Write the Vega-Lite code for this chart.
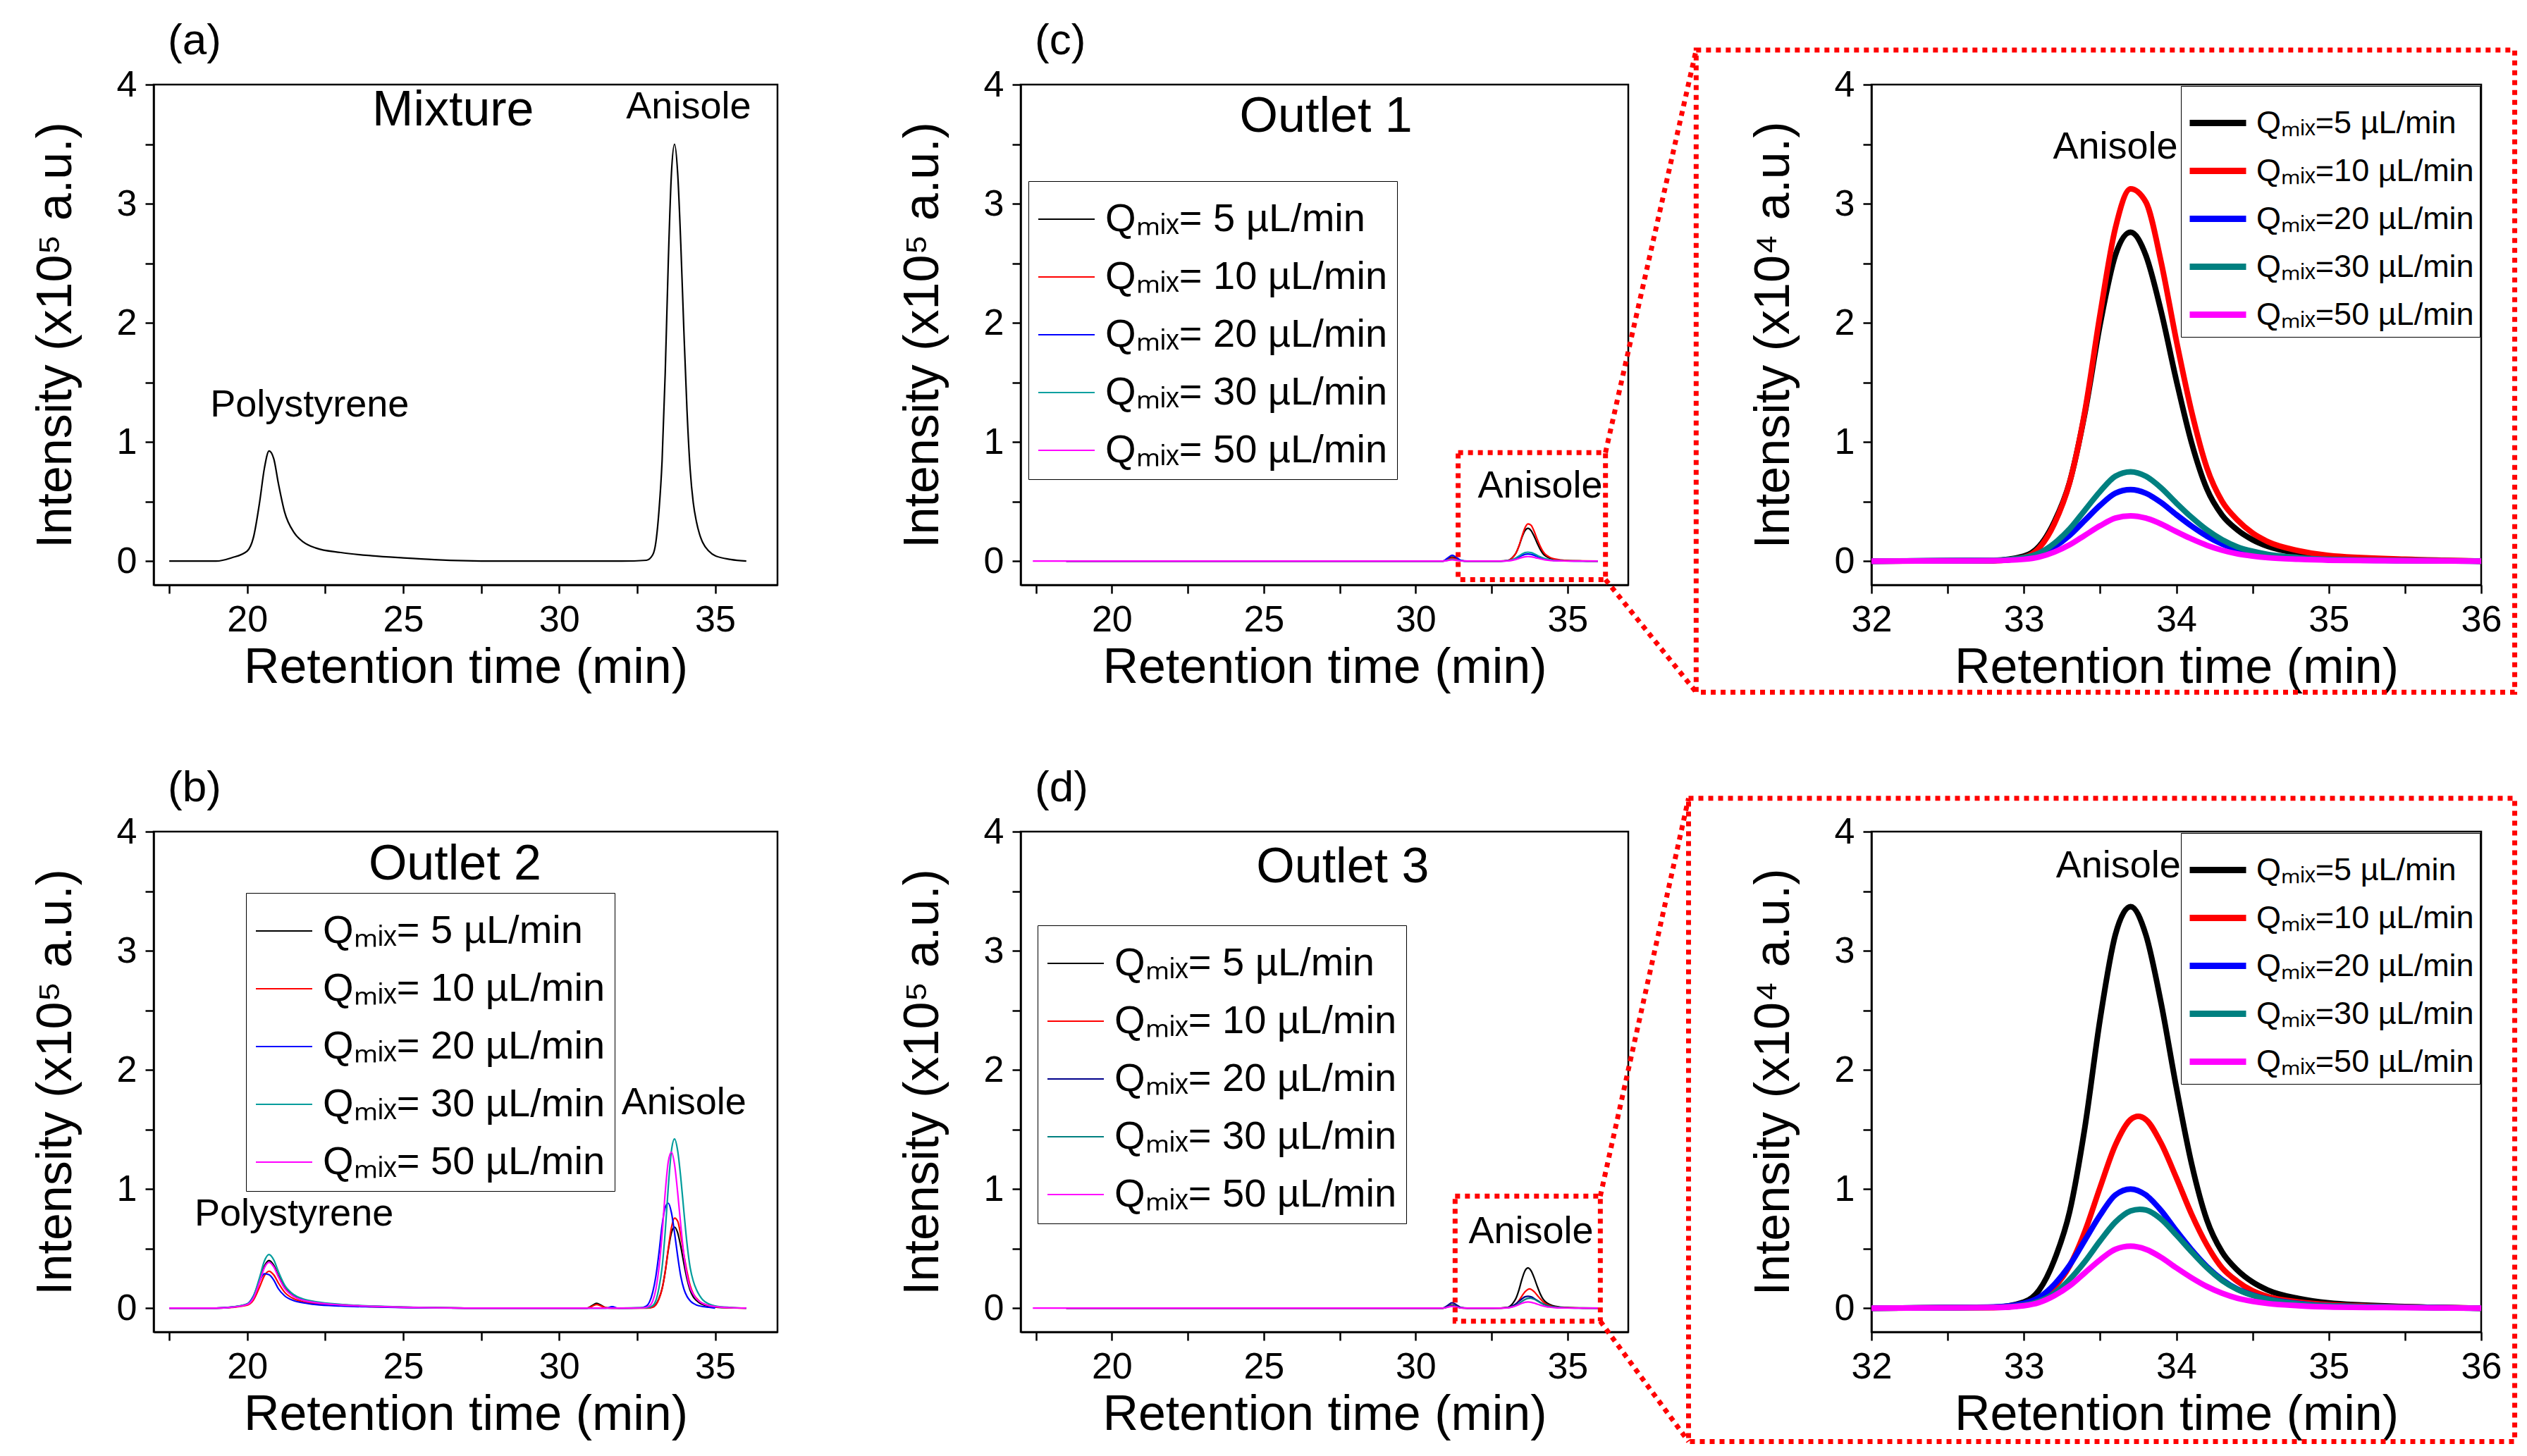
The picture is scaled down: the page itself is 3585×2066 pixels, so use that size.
{
"$schema":"https://vega.github.io/schema/vega-lite/v6.json",
"background":"white",
"padding":{"left":42,"top":25,"right":5,"bottom":5},
"config":{
 "font":"Liberation Sans",
 "view":{"stroke":"black","strokeWidth":2.5},
 "axis":{"grid":false,"domainColor":"black","domainWidth":2.5,"tickColor":"black","tickWidth":2.5,"tickSize":12,"labelFontSize":52,"labelColor":"black","labelPadding":12,"labelFlush":false,"labelOverlap":false,"titleFontSize":70,"titleFontWeight":"normal","titleColor":"black"},
 "axisX":{"titlePadding":8},
 "axisY":{"titlePadding":50},
 "title":{"fontSize":62,"fontWeight":"normal","anchor":"start","frame":"group","offset":4,"dx":20,"color":"black"},
 "legend":{"title":null,"symbolType":"stroke","strokeColor":"black","fillColor":"white","labelColor":"black","labelLimit":0},
 "text":{"color":"black"}
},
"datasets":{
"mix":[{"t":17.5,"v":0},{"t":19,"v":0},{"t":19.5,"v":2800},{"t":20,"v":8500},{"t":20.2,"v":20000},{"t":20.4,"v":50000},{"t":20.55,"v":78000},{"t":20.7,"v":92500},{"t":20.85,"v":86000},{"t":21,"v":65000},{"t":21.2,"v":41000},{"t":21.5,"v":24000},{"t":21.8,"v":16000},{"t":22.2,"v":11000},{"t":23,"v":7200},{"t":24,"v":4500},{"t":25,"v":2700},{"t":26,"v":1200},{"t":27,"v":300},{"t":28,"v":0},{"t":32,"v":0},{"t":32.8,"v":700},{"t":33,"v":5250},{"t":33.1,"v":15750},{"t":33.2,"v":42000},{"t":33.3,"v":84000},{"t":33.4,"v":157500},{"t":33.5,"v":252000},{"t":33.6,"v":325500},{"t":33.7,"v":350000},{"t":33.8,"v":325500},{"t":33.9,"v":266000},{"t":34,"v":192500},{"t":34.1,"v":126000},{"t":34.2,"v":77000},{"t":34.3,"v":49000},{"t":34.4,"v":33250},{"t":34.5,"v":22750},{"t":34.6,"v":15750},{"t":34.8,"v":8400},{"t":35,"v":4550},{"t":35.5,"v":1400},{"t":36,"v":0}],
"o1":[
{"q":"5","t":18.5,"v":0},{"q":"5","t":30.9,"v":0},{"q":"5","t":31.05,"v":1750},{"q":"5","t":31.2,"v":3500},{"q":"5","t":31.35,"v":2100},{"q":"5","t":31.5,"v":350},{"q":"5","t":31.7,"v":0},
{"q":"5","t":32,"v":0},{"q":"5","t":32.8,"v":55},{"q":"5","t":33,"v":414},{"q":"5","t":33.1,"v":1242},{"q":"5","t":33.2,"v":3312},{"q":"5","t":33.3,"v":6624},{"q":"5","t":33.4,"v":12420},{"q":"5","t":33.5,"v":19872},{"q":"5","t":33.6,"v":25668},{"q":"5","t":33.7,"v":27600},{"q":"5","t":33.8,"v":25668},{"q":"5","t":33.9,"v":20976},{"q":"5","t":34,"v":15180},{"q":"5","t":34.1,"v":9936},{"q":"5","t":34.2,"v":6072},{"q":"5","t":34.3,"v":3864},{"q":"5","t":34.4,"v":2622},{"q":"5","t":34.5,"v":1794},{"q":"5","t":34.6,"v":1242},{"q":"5","t":34.8,"v":662},{"q":"5","t":35,"v":359},{"q":"5","t":35.5,"v":110},{"q":"5","t":36,"v":0},
{"q":"10","t":18.5,"v":0},{"q":"10","t":30.9,"v":0},{"q":"10","t":31.05,"v":1250},{"q":"10","t":31.2,"v":2500},{"q":"10","t":31.35,"v":1500},{"q":"10","t":31.5,"v":250},{"q":"10","t":31.7,"v":0},
{"q":"10","t":32,"v":0},{"q":"10","t":32.8,"v":31},{"q":"10","t":33,"v":314},{"q":"10","t":33.1,"v":1099},{"q":"10","t":33.2,"v":3140},{"q":"10","t":33.3,"v":6594},{"q":"10","t":33.4,"v":12560},{"q":"10","t":33.5,"v":20724},{"q":"10","t":33.6,"v":27946},{"q":"10","t":33.7,"v":31243},{"q":"10","t":33.8,"v":30144},{"q":"10","t":33.9,"v":25120},{"q":"10","t":34,"v":18526},{"q":"10","t":34.1,"v":12560},{"q":"10","t":34.2,"v":7850},{"q":"10","t":34.3,"v":5024},{"q":"10","t":34.4,"v":3454},{"q":"10","t":34.5,"v":2355},{"q":"10","t":34.6,"v":1633},{"q":"10","t":34.8,"v":879},{"q":"10","t":35,"v":471},{"q":"10","t":35.5,"v":157},{"q":"10","t":36,"v":0},
{"q":"20","t":18.5,"v":0},{"q":"20","t":30.9,"v":0},{"q":"20","t":31.05,"v":2500},{"q":"20","t":31.2,"v":5000},{"q":"20","t":31.35,"v":3000},{"q":"20","t":31.5,"v":500},{"q":"20","t":31.7,"v":0},
{"q":"20","t":32,"v":0},{"q":"20","t":32.8,"v":60},{"q":"20","t":33,"v":240},{"q":"20","t":33.1,"v":540},{"q":"20","t":33.2,"v":1200},{"q":"20","t":33.3,"v":2160},{"q":"20","t":33.4,"v":3420},{"q":"20","t":33.5,"v":4680},{"q":"20","t":33.6,"v":5700},{"q":"20","t":33.7,"v":6000},{"q":"20","t":33.8,"v":5700},{"q":"20","t":33.9,"v":4920},{"q":"20","t":34,"v":3900},{"q":"20","t":34.1,"v":2940},{"q":"20","t":34.2,"v":2100},{"q":"20","t":34.3,"v":1440},{"q":"20","t":34.4,"v":960},{"q":"20","t":34.5,"v":660},{"q":"20","t":34.6,"v":450},{"q":"20","t":34.8,"v":240},{"q":"20","t":35,"v":120},{"q":"20","t":35.5,"v":48},{"q":"20","t":36,"v":0},
{"q":"30","t":18.5,"v":0},{"q":"30","t":30.9,"v":0},{"q":"30","t":31.05,"v":750},{"q":"30","t":31.2,"v":1500},{"q":"30","t":31.35,"v":900},{"q":"30","t":31.5,"v":150},{"q":"30","t":31.7,"v":0},
{"q":"30","t":32,"v":0},{"q":"30","t":32.8,"v":75},{"q":"30","t":33,"v":300},{"q":"30","t":33.1,"v":675},{"q":"30","t":33.2,"v":1500},{"q":"30","t":33.3,"v":2700},{"q":"30","t":33.4,"v":4275},{"q":"30","t":33.5,"v":5850},{"q":"30","t":33.6,"v":7125},{"q":"30","t":33.7,"v":7500},{"q":"30","t":33.8,"v":7125},{"q":"30","t":33.9,"v":6150},{"q":"30","t":34,"v":4875},{"q":"30","t":34.1,"v":3675},{"q":"30","t":34.2,"v":2625},{"q":"30","t":34.3,"v":1800},{"q":"30","t":34.4,"v":1200},{"q":"30","t":34.5,"v":825},{"q":"30","t":34.6,"v":563},{"q":"30","t":34.8,"v":300},{"q":"30","t":35,"v":150},{"q":"30","t":35.5,"v":60},{"q":"30","t":36,"v":0},
{"q":"50","t":17.4,"v":0},{"q":"50","t":30.9,"v":0},{"q":"50","t":31.05,"v":500},{"q":"50","t":31.2,"v":1000},{"q":"50","t":31.35,"v":600},{"q":"50","t":31.5,"v":100},{"q":"50","t":31.7,"v":0},
{"q":"50","t":32,"v":0},{"q":"50","t":32.8,"v":38},{"q":"50","t":33,"v":152},{"q":"50","t":33.1,"v":342},{"q":"50","t":33.2,"v":760},{"q":"50","t":33.3,"v":1368},{"q":"50","t":33.4,"v":2166},{"q":"50","t":33.5,"v":2964},{"q":"50","t":33.6,"v":3610},{"q":"50","t":33.7,"v":3800},{"q":"50","t":33.8,"v":3610},{"q":"50","t":33.9,"v":3116},{"q":"50","t":34,"v":2470},{"q":"50","t":34.1,"v":1862},{"q":"50","t":34.2,"v":1330},{"q":"50","t":34.3,"v":912},{"q":"50","t":34.4,"v":608},{"q":"50","t":34.5,"v":418},{"q":"50","t":34.6,"v":285},{"q":"50","t":34.8,"v":152},{"q":"50","t":35,"v":76},{"q":"50","t":35.5,"v":30},{"q":"50","t":36,"v":0}
],
"o2":[
{"q":"5","t":17.5,"v":0},{"q":"5","t":19,"v":0},{"q":"5","t":19.5,"v":800},{"q":"5","t":20,"v":3200},{"q":"5","t":20.2,"v":8800},{"q":"5","t":20.4,"v":23200},{"q":"5","t":20.55,"v":35200},{"q":"5","t":20.7,"v":40000},{"q":"5","t":20.85,"v":36000},{"q":"5","t":21,"v":27200},{"q":"5","t":21.2,"v":17200},{"q":"5","t":21.5,"v":10000},{"q":"5","t":21.8,"v":6800},{"q":"5","t":22.2,"v":4800},{"q":"5","t":23,"v":2800},{"q":"5","t":24,"v":1600},{"q":"5","t":25,"v":800},{"q":"5","t":26,"v":320},{"q":"5","t":27,"v":80},{"q":"5","t":28,"v":0},
{"q":"5","t":30.9,"v":0},{"q":"5","t":31.05,"v":2000},{"q":"5","t":31.2,"v":4000},{"q":"5","t":31.35,"v":2400},{"q":"5","t":31.5,"v":400},{"q":"5","t":31.7,"v":0},
{"q":"5","t":32,"v":0},{"q":"5","t":32.8,"v":136},{"q":"5","t":33,"v":1020},{"q":"5","t":33.1,"v":3060},{"q":"5","t":33.2,"v":8160},{"q":"5","t":33.3,"v":16320},{"q":"5","t":33.4,"v":30600},{"q":"5","t":33.5,"v":48960},{"q":"5","t":33.6,"v":63240},{"q":"5","t":33.7,"v":68000},{"q":"5","t":33.8,"v":63240},{"q":"5","t":33.9,"v":51680},{"q":"5","t":34,"v":37400},{"q":"5","t":34.1,"v":24480},{"q":"5","t":34.2,"v":14960},{"q":"5","t":34.3,"v":9520},{"q":"5","t":34.4,"v":6460},{"q":"5","t":34.5,"v":4420},{"q":"5","t":34.6,"v":3060},{"q":"5","t":34.8,"v":1632},{"q":"5","t":35,"v":884},{"q":"5","t":35.5,"v":272},{"q":"5","t":36,"v":0},
{"q":"10","t":17.5,"v":0},{"q":"10","t":19,"v":0},{"q":"10","t":19.5,"v":620},{"q":"10","t":20,"v":2480},{"q":"10","t":20.2,"v":6820},{"q":"10","t":20.4,"v":17980},{"q":"10","t":20.55,"v":27280},{"q":"10","t":20.7,"v":31000},{"q":"10","t":20.85,"v":27900},{"q":"10","t":21,"v":21080},{"q":"10","t":21.2,"v":13330},{"q":"10","t":21.5,"v":7750},{"q":"10","t":21.8,"v":5270},{"q":"10","t":22.2,"v":3720},{"q":"10","t":23,"v":2170},{"q":"10","t":24,"v":1240},{"q":"10","t":25,"v":620},{"q":"10","t":26,"v":248},{"q":"10","t":27,"v":62},{"q":"10","t":28,"v":0},
{"q":"10","t":30.9,"v":0},{"q":"10","t":31.05,"v":1500},{"q":"10","t":31.2,"v":3000},{"q":"10","t":31.35,"v":1800},{"q":"10","t":31.5,"v":300},{"q":"10","t":31.7,"v":0},
{"q":"10","t":32,"v":0},{"q":"10","t":32.8,"v":76},{"q":"10","t":33,"v":760},{"q":"10","t":33.1,"v":2660},{"q":"10","t":33.2,"v":7600},{"q":"10","t":33.3,"v":15960},{"q":"10","t":33.4,"v":30400},{"q":"10","t":33.5,"v":50160},{"q":"10","t":33.6,"v":67640},{"q":"10","t":33.7,"v":75620},{"q":"10","t":33.8,"v":72960},{"q":"10","t":33.9,"v":60800},{"q":"10","t":34,"v":44840},{"q":"10","t":34.1,"v":30400},{"q":"10","t":34.2,"v":19000},{"q":"10","t":34.3,"v":12160},{"q":"10","t":34.4,"v":8360},{"q":"10","t":34.5,"v":5700},{"q":"10","t":34.6,"v":3952},{"q":"10","t":34.8,"v":2128},{"q":"10","t":35,"v":1140},{"q":"10","t":35.5,"v":380},{"q":"10","t":36,"v":0},
{"q":"20","t":17.5,"v":0},{"q":"20","t":19,"v":0},{"q":"20","t":19.5,"v":885},{"q":"20","t":20,"v":3540},{"q":"20","t":20.2,"v":10325},{"q":"20","t":20.4,"v":23010},{"q":"20","t":20.55,"v":28910},{"q":"20","t":20.7,"v":28025},{"q":"20","t":20.85,"v":23600},{"q":"20","t":21,"v":16225},{"q":"20","t":21.2,"v":10325},{"q":"20","t":21.5,"v":6195},{"q":"20","t":21.8,"v":4425},{"q":"20","t":22.2,"v":2950},{"q":"20","t":23,"v":1770},{"q":"20","t":24,"v":1033},{"q":"20","t":25,"v":531},{"q":"20","t":26,"v":207},{"q":"20","t":27,"v":59},{"q":"20","t":28,"v":0},
{"q":"20","t":31.5,"v":0},{"q":"20","t":31.7,"v":1200},{"q":"20","t":31.9,"v":0},
{"q":"20","t":32,"v":0},{"q":"20","t":32.6,"v":178},{"q":"20","t":32.8,"v":1780},{"q":"20","t":32.9,"v":5340},{"q":"20","t":33,"v":13350},{"q":"20","t":33.1,"v":26700},{"q":"20","t":33.2,"v":46280},{"q":"20","t":33.3,"v":69420},{"q":"20","t":33.4,"v":84550},{"q":"20","t":33.5,"v":88110},{"q":"20","t":33.6,"v":80100},{"q":"20","t":33.7,"v":63190},{"q":"20","t":33.8,"v":43610},{"q":"20","t":33.9,"v":26700},{"q":"20","t":34,"v":16020},{"q":"20","t":34.1,"v":9790},{"q":"20","t":34.2,"v":6230},{"q":"20","t":34.3,"v":4005},{"q":"20","t":34.4,"v":2670},{"q":"20","t":34.6,"v":1335},{"q":"20","t":34.8,"v":712},{"q":"20","t":35,"v":0},
{"q":"30","t":17.5,"v":0},{"q":"30","t":19,"v":0},{"q":"30","t":19.5,"v":900},{"q":"30","t":20,"v":3600},{"q":"30","t":20.2,"v":9900},{"q":"30","t":20.4,"v":26100},{"q":"30","t":20.55,"v":39600},{"q":"30","t":20.7,"v":45000},{"q":"30","t":20.85,"v":40500},{"q":"30","t":21,"v":30600},{"q":"30","t":21.2,"v":19350},{"q":"30","t":21.5,"v":11250},{"q":"30","t":21.8,"v":7650},{"q":"30","t":22.2,"v":5400},{"q":"30","t":23,"v":3150},{"q":"30","t":24,"v":1800},{"q":"30","t":25,"v":900},{"q":"30","t":26,"v":360},{"q":"30","t":27,"v":90},{"q":"30","t":28,"v":0},
{"q":"30","t":32,"v":0},{"q":"30","t":32.8,"v":284},{"q":"30","t":33,"v":2130},{"q":"30","t":33.1,"v":6390},{"q":"30","t":33.2,"v":17040},{"q":"30","t":33.3,"v":34080},{"q":"30","t":33.4,"v":63900},{"q":"30","t":33.5,"v":102240},{"q":"30","t":33.6,"v":132060},{"q":"30","t":33.7,"v":142000},{"q":"30","t":33.8,"v":132060},{"q":"30","t":33.9,"v":109340},{"q":"30","t":34,"v":80940},{"q":"30","t":34.1,"v":53960},{"q":"30","t":34.2,"v":34080},{"q":"30","t":34.3,"v":22720},{"q":"30","t":34.4,"v":15620},{"q":"30","t":34.5,"v":10650},{"q":"30","t":34.6,"v":7100},{"q":"30","t":34.8,"v":3550},{"q":"30","t":35,"v":1846},{"q":"30","t":35.5,"v":568},{"q":"30","t":36,"v":0},
{"q":"50","t":17.5,"v":0},{"q":"50","t":19,"v":0},{"q":"50","t":19.5,"v":770},{"q":"50","t":20,"v":3080},{"q":"50","t":20.2,"v":8470},{"q":"50","t":20.4,"v":22330},{"q":"50","t":20.55,"v":33880},{"q":"50","t":20.7,"v":38500},{"q":"50","t":20.85,"v":34650},{"q":"50","t":21,"v":26180},{"q":"50","t":21.2,"v":16555},{"q":"50","t":21.5,"v":9625},{"q":"50","t":21.8,"v":6545},{"q":"50","t":22.2,"v":4620},{"q":"50","t":23,"v":2695},{"q":"50","t":24,"v":1540},{"q":"50","t":25,"v":770},{"q":"50","t":26,"v":308},{"q":"50","t":27,"v":77},{"q":"50","t":28,"v":0},
{"q":"50","t":32,"v":0},{"q":"50","t":32.7,"v":262},{"q":"50","t":32.9,"v":1965},{"q":"50","t":33,"v":5895},{"q":"50","t":33.1,"v":15720},{"q":"50","t":33.2,"v":34060},{"q":"50","t":33.3,"v":61570},{"q":"50","t":33.4,"v":96940},{"q":"50","t":33.5,"v":123140},{"q":"50","t":33.6,"v":131000},{"q":"50","t":33.7,"v":120520},{"q":"50","t":33.8,"v":96940},{"q":"50","t":33.9,"v":69430},{"q":"50","t":34,"v":44540},{"q":"50","t":34.1,"v":27510},{"q":"50","t":34.2,"v":17030},{"q":"50","t":34.3,"v":11790},{"q":"50","t":34.4,"v":7860},{"q":"50","t":34.5,"v":5502},{"q":"50","t":34.7,"v":2882},{"q":"50","t":35,"v":1310},{"q":"50","t":35.5,"v":393},{"q":"50","t":36,"v":0}
],
"o3":[
{"q":"5","t":18.5,"v":0},{"q":"5","t":30.9,"v":0},{"q":"5","t":31.05,"v":1250},{"q":"5","t":31.2,"v":2500},{"q":"5","t":31.35,"v":1500},{"q":"5","t":31.5,"v":250},{"q":"5","t":31.7,"v":0},
{"q":"5","t":32,"v":0},{"q":"5","t":32.8,"v":67},{"q":"5","t":33,"v":506},{"q":"5","t":33.1,"v":1517},{"q":"5","t":33.2,"v":4044},{"q":"5","t":33.3,"v":8088},{"q":"5","t":33.4,"v":15165},{"q":"5","t":33.5,"v":24264},{"q":"5","t":33.6,"v":31341},{"q":"5","t":33.7,"v":33700},{"q":"5","t":33.8,"v":31341},{"q":"5","t":33.9,"v":25612},{"q":"5","t":34,"v":18535},{"q":"5","t":34.1,"v":12132},{"q":"5","t":34.2,"v":7414},{"q":"5","t":34.3,"v":4718},{"q":"5","t":34.4,"v":3202},{"q":"5","t":34.5,"v":2191},{"q":"5","t":34.6,"v":1517},{"q":"5","t":34.8,"v":809},{"q":"5","t":35,"v":438},{"q":"5","t":35.5,"v":135},{"q":"5","t":36,"v":0},
{"q":"10","t":18.5,"v":0},{"q":"10","t":30.9,"v":0},{"q":"10","t":31.05,"v":1000},{"q":"10","t":31.2,"v":2000},{"q":"10","t":31.35,"v":1200},{"q":"10","t":31.5,"v":200},{"q":"10","t":31.7,"v":0},
{"q":"10","t":32,"v":0},{"q":"10","t":32.8,"v":48},{"q":"10","t":33,"v":322},{"q":"10","t":33.1,"v":805},{"q":"10","t":33.2,"v":1771},{"q":"10","t":33.3,"v":3542},{"q":"10","t":33.4,"v":6440},{"q":"10","t":33.5,"v":10143},{"q":"10","t":33.6,"v":13685},{"q":"10","t":33.7,"v":15830},{"q":"10","t":33.75,"v":16100},{"q":"10","t":33.8,"v":15830},{"q":"10","t":33.9,"v":13846},{"q":"10","t":34,"v":10948},{"q":"10","t":34.1,"v":7889},{"q":"10","t":34.2,"v":5313},{"q":"10","t":34.3,"v":3381},{"q":"10","t":34.4,"v":2254},{"q":"10","t":34.5,"v":1449},{"q":"10","t":34.6,"v":966},{"q":"10","t":34.8,"v":515},{"q":"10","t":35,"v":290},{"q":"10","t":35.5,"v":97},{"q":"10","t":36,"v":0},
{"q":"20","t":18.5,"v":0},{"q":"20","t":30.9,"v":0},{"q":"20","t":31.05,"v":2250},{"q":"20","t":31.2,"v":4500},{"q":"20","t":31.35,"v":2700},{"q":"20","t":31.5,"v":450},{"q":"20","t":31.7,"v":0},
{"q":"20","t":32,"v":0},{"q":"20","t":32.8,"v":100},{"q":"20","t":33,"v":400},{"q":"20","t":33.1,"v":900},{"q":"20","t":33.2,"v":2000},{"q":"20","t":33.3,"v":3600},{"q":"20","t":33.4,"v":5700},{"q":"20","t":33.5,"v":7800},{"q":"20","t":33.6,"v":9500},{"q":"20","t":33.7,"v":10000},{"q":"20","t":33.8,"v":9500},{"q":"20","t":33.9,"v":8200},{"q":"20","t":34,"v":6500},{"q":"20","t":34.1,"v":4900},{"q":"20","t":34.2,"v":3500},{"q":"20","t":34.3,"v":2400},{"q":"20","t":34.4,"v":1600},{"q":"20","t":34.5,"v":1100},{"q":"20","t":34.6,"v":750},{"q":"20","t":34.8,"v":400},{"q":"20","t":35,"v":200},{"q":"20","t":35.5,"v":80},{"q":"20","t":36,"v":0},
{"q":"30","t":18.5,"v":0},{"q":"30","t":30.9,"v":0},{"q":"30","t":31.05,"v":1000},{"q":"30","t":31.2,"v":2000},{"q":"30","t":31.35,"v":1200},{"q":"30","t":31.5,"v":200},{"q":"30","t":31.7,"v":0},
{"q":"30","t":32,"v":0},{"q":"30","t":32.8,"v":66},{"q":"30","t":33,"v":249},{"q":"30","t":33.1,"v":581},{"q":"30","t":33.2,"v":1245},{"q":"30","t":33.3,"v":2407},{"q":"30","t":33.4,"v":3901},{"q":"30","t":33.5,"v":5644},{"q":"30","t":33.6,"v":7221},{"q":"30","t":33.7,"v":8160},{"q":"30","t":33.76,"v":8300},{"q":"30","t":33.8,"v":8240},{"q":"30","t":33.9,"v":7470},{"q":"30","t":34,"v":6142},{"q":"30","t":34.1,"v":4731},{"q":"30","t":34.2,"v":3403},{"q":"30","t":34.3,"v":2324},{"q":"30","t":34.4,"v":1577},{"q":"30","t":34.5,"v":1079},{"q":"30","t":34.6,"v":747},{"q":"30","t":34.8,"v":374},{"q":"30","t":35,"v":199},{"q":"30","t":35.5,"v":75},{"q":"30","t":36,"v":0},
{"q":"50","t":17.4,"v":0},{"q":"50","t":30.9,"v":0},{"q":"50","t":31.05,"v":750},{"q":"50","t":31.2,"v":1500},{"q":"50","t":31.35,"v":900},{"q":"50","t":31.5,"v":150},{"q":"50","t":31.7,"v":0},
{"q":"50","t":32,"v":0},{"q":"50","t":32.8,"v":52},{"q":"50","t":33,"v":208},{"q":"50","t":33.1,"v":468},{"q":"50","t":33.2,"v":1040},{"q":"50","t":33.3,"v":1872},{"q":"50","t":33.4,"v":2964},{"q":"50","t":33.5,"v":4056},{"q":"50","t":33.6,"v":4940},{"q":"50","t":33.7,"v":5200},{"q":"50","t":33.8,"v":4940},{"q":"50","t":33.9,"v":4264},{"q":"50","t":34,"v":3380},{"q":"50","t":34.1,"v":2548},{"q":"50","t":34.2,"v":1820},{"q":"50","t":34.3,"v":1248},{"q":"50","t":34.4,"v":832},{"q":"50","t":34.5,"v":572},{"q":"50","t":34.6,"v":390},{"q":"50","t":34.8,"v":208},{"q":"50","t":35,"v":104},{"q":"50","t":35.5,"v":42},{"q":"50","t":36,"v":0}
],
"labels":[
{"panel":"Mixture","kind":"title","text":"Mixture","t":26.6,"v":378000},
{"panel":"Mixture","kind":"peak","text":"Anisole","t":34.15,"v":381000},
{"panel":"Mixture","kind":"peak","text":"Polystyrene","t":22.0,"v":131000},
{"panel":"Outlet 1","kind":"title","text":"Outlet 1","t":27.05,"v":373000},
{"panel":"Outlet 1","kind":"peak","text":"Anisole","t":34.1,"v":63000},
{"panel":"Outlet 2","kind":"title","text":"Outlet 2","t":26.66,"v":372000},
{"panel":"Outlet 2","kind":"peak","text":"Anisole","t":34.0,"v":172000},
{"panel":"Outlet 2","kind":"peak","text":"Polystyrene","t":21.5,"v":79000},
{"panel":"Outlet 3","kind":"title","text":"Outlet 3","t":27.6,"v":370000},
{"panel":"Outlet 3","kind":"peak","text":"Anisole","t":33.8,"v":64000},
{"panel":"Inset 1","kind":"peak","text":"Anisole","t":33.6,"v":34750},
{"panel":"Inset 3","kind":"peak","text":"Anisole","t":33.62,"v":37100}
],
"boxes":[
{"panel":"Outlet 1","x1":31.4,"x2":36.25,"y1":-15500,"y2":91000},
{"panel":"Outlet 3","x1":31.3,"x2":36.08,"y1":-11000,"y2":94000},
{"panel":"Inset 1","x1":30.85,"x2":36.22,"y1":-11000,"y2":42900},
{"panel":"Inset 3","x1":30.8,"x2":36.22,"y1":-11200,"y2":42800}
],
"links":[
{"panel":"Inset 1","x1":30.255,"x2":30.85,"y1":9100,"y2":42900},
{"panel":"Inset 1","x1":30.255,"x2":30.85,"y1":-1550,"y2":-11000},
{"panel":"Inset 3","x1":30.221,"x2":30.8,"y1":9400,"y2":42800},
{"panel":"Inset 3","x1":30.221,"x2":30.8,"y1":-1100,"y2":-11200}
]
},
"columns":3,
"spacing":{"row":350,"column":345},
"bounds":"flush",
"resolve":{"scale":{"color":"independent","x":"independent","y":"independent"},"legend":{"color":"independent"}},
"concat":[
 {"width":885,"height":710,"title":"(a)","layer":[
  {"data":{"name":"mix"},"mark":{"type":"line","interpolate":"monotone","strokeWidth":2.2,"color":"black"},
   "encoding":{"x":{"field":"t","type":"quantitative","scale":{"domain":[17,37],"nice":false,"zero":false},"axis":{"title":"Retention time (min)","values":[17.5,20,22.5,25,27.5,30,32.5,35],"labelExpr":"datum.value % 5 == 0 ? format(datum.value,'d') : ''"}},
   "y":{"field":"v","type":"quantitative","scale":{"domain":[-20000,400000],"nice":false,"zero":false},"axis":{"title":"Intensity (x10⁵ a.u.)","values":[0,50000,100000,150000,200000,250000,300000,350000,400000],"labelExpr":"datum.value % 100000 == 0 ? format(datum.value/100000,'d') : ''"}}}},
  {"data":{"name":"labels"},"transform":[{"filter":"datum.panel == 'Mixture' && datum.kind == 'title'"}],"mark":{"type":"text","fontSize":70,"baseline":"middle"},"encoding":{"x":{"field":"t","type":"quantitative"},"y":{"field":"v","type":"quantitative"},"text":{"field":"text"}}},
  {"data":{"name":"labels"},"transform":[{"filter":"datum.panel == 'Mixture' && datum.kind == 'peak'"}],"mark":{"type":"text","fontSize":54,"baseline":"middle"},"encoding":{"x":{"field":"t","type":"quantitative"},"y":{"field":"v","type":"quantitative"},"text":{"field":"text"}}}
 ]},
 {"width":862,"height":710,"title":"(c)","layer":[
  {"data":{"name":"o1"},"mark":{"type":"line","interpolate":"monotone","strokeWidth":2.2},
   "encoding":{"x":{"field":"t","type":"quantitative","scale":{"domain":[17,37],"nice":false,"zero":false},"axis":{"title":"Retention time (min)","values":[17.5,20,22.5,25,27.5,30,32.5,35],"labelExpr":"datum.value % 5 == 0 ? format(datum.value,'d') : ''"}},
   "y":{"field":"v","type":"quantitative","scale":{"domain":[-20000,400000],"nice":false,"zero":false},"axis":{"title":"Intensity (x10⁵ a.u.)","values":[0,50000,100000,150000,200000,250000,300000,350000,400000],"labelExpr":"datum.value % 100000 == 0 ? format(datum.value/100000,'d') : ''"}},
   "color":{"field":"q","type":"nominal","scale":{"domain":["5","10","20","30","50"],"range":["#000000","#ff0000","#0000ff","#00a0a0","#ff00ff"]},
    "legend":{"orient":"none","legendX":11,"legendY":137,"labelExpr":"'Qₘᵢₓ= ' + datum.label + ' µL/min'","labelFontSize":56,"symbolSize":6400,"symbolStrokeWidth":2,"padding":13,"rowPadding":13,"labelOffset":14}}}},
  {"data":{"name":"labels"},"transform":[{"filter":"datum.panel == 'Outlet 1' && datum.kind == 'title'"}],"mark":{"type":"text","fontSize":70,"baseline":"middle"},"encoding":{"x":{"field":"t","type":"quantitative"},"y":{"field":"v","type":"quantitative"},"text":{"field":"text"}}},
  {"data":{"name":"labels"},"transform":[{"filter":"datum.panel == 'Outlet 1' && datum.kind == 'peak'"}],"mark":{"type":"text","fontSize":54,"baseline":"middle"},"encoding":{"x":{"field":"t","type":"quantitative"},"y":{"field":"v","type":"quantitative"},"text":{"field":"text"}}},
  {"data":{"name":"boxes"},"transform":[{"filter":"datum.panel == 'Outlet 1'"}],"mark":{"type":"rect","fill":"white","fillOpacity":0,"stroke":"#ff0000","strokeWidth":7,"strokeDash":[7,7]},"encoding":{"x":{"field":"x1","type":"quantitative"},"x2":{"field":"x2"},"y":{"field":"y1","type":"quantitative"},"y2":{"field":"y2"}}}
 ]},
 {"width":865,"height":710,"layer":[
  {"data":{"name":"o1"},"transform":[{"filter":"datum.t >= 32 && datum.t <= 36"}],"mark":{"type":"line","interpolate":"monotone","strokeWidth":8},
   "encoding":{"x":{"field":"t","type":"quantitative","scale":{"domain":[32,36],"nice":false,"zero":false},"axis":{"title":"Retention time (min)","values":[32,32.5,33,33.5,34,34.5,35,35.5,36],"labelExpr":"datum.value % 1 == 0 ? format(datum.value,'d') : ''"}},
   "y":{"field":"v","type":"quantitative","scale":{"domain":[-2000,40000],"nice":false,"zero":false},"axis":{"title":"Intensity (x10⁴ a.u.)","values":[0,5000,10000,15000,20000,25000,30000,35000,40000],"labelExpr":"datum.value % 10000 == 0 ? format(datum.value/10000,'d') : ''"}},
   "color":{"field":"q","type":"nominal","scale":{"domain":["5","10","20","30","50"],"range":["#000000","#ff0000","#0000ff","#008080","#ff00ff"]},
    "legend":{"orient":"top-right","offset":2,"labelExpr":"'Qₘᵢₓ=' + datum.label + ' µL/min'","labelFontSize":45,"symbolSize":6400,"symbolStrokeWidth":9,"padding":8,"rowPadding":0,"labelOffset":10}}}},
  {"data":{"name":"labels"},"transform":[{"filter":"datum.panel == 'Inset 1'"}],"mark":{"type":"text","fontSize":54,"baseline":"middle"},"encoding":{"x":{"field":"t","type":"quantitative"},"y":{"field":"v","type":"quantitative"},"text":{"field":"text"}}},
  {"data":{"name":"boxes"},"transform":[{"filter":"datum.panel == 'Inset 1'"}],"mark":{"type":"rect","fill":"white","fillOpacity":0,"stroke":"#ff0000","strokeWidth":7,"strokeDash":[7,7],"clip":false},"encoding":{"x":{"field":"x1","type":"quantitative"},"x2":{"field":"x2"},"y":{"field":"y1","type":"quantitative"},"y2":{"field":"y2"}}},
  {"data":{"name":"links"},"transform":[{"filter":"datum.panel == 'Inset 1'"}],"mark":{"type":"rule","color":"#ff0000","strokeWidth":7,"strokeDash":[7,7],"clip":false},"encoding":{"x":{"field":"x1","type":"quantitative"},"x2":{"field":"x2"},"y":{"field":"y1","type":"quantitative"},"y2":{"field":"y2"}}}
 ]},
 {"width":885,"height":710,"title":"(b)","layer":[
  {"data":{"name":"o2"},"mark":{"type":"line","interpolate":"monotone","strokeWidth":2.2},
   "encoding":{"x":{"field":"t","type":"quantitative","scale":{"domain":[17,37],"nice":false,"zero":false},"axis":{"title":"Retention time (min)","values":[17.5,20,22.5,25,27.5,30,32.5,35],"labelExpr":"datum.value % 5 == 0 ? format(datum.value,'d') : ''"}},
   "y":{"field":"v","type":"quantitative","scale":{"domain":[-20000,400000],"nice":false,"zero":false},"axis":{"title":"Intensity (x10⁵ a.u.)","values":[0,50000,100000,150000,200000,250000,300000,350000,400000],"labelExpr":"datum.value % 100000 == 0 ? format(datum.value/100000,'d') : ''"}},
   "color":{"field":"q","type":"nominal","scale":{"domain":["5","10","20","30","50"],"range":["#000000","#ff0000","#0000ff","#009c9c","#ff00ff"]},
    "legend":{"orient":"none","legendX":131,"legendY":87,"labelExpr":"'Qₘᵢₓ= ' + datum.label + ' µL/min'","labelFontSize":56,"symbolSize":6400,"symbolStrokeWidth":2,"padding":13,"rowPadding":13,"labelOffset":14}}}},
  {"data":{"name":"labels"},"transform":[{"filter":"datum.panel == 'Outlet 2' && datum.kind == 'title'"}],"mark":{"type":"text","fontSize":70,"baseline":"middle"},"encoding":{"x":{"field":"t","type":"quantitative"},"y":{"field":"v","type":"quantitative"},"text":{"field":"text"}}},
  {"data":{"name":"labels"},"transform":[{"filter":"datum.panel == 'Outlet 2' && datum.kind == 'peak'"}],"mark":{"type":"text","fontSize":54,"baseline":"middle"},"encoding":{"x":{"field":"t","type":"quantitative"},"y":{"field":"v","type":"quantitative"},"text":{"field":"text"}}}
 ]},
 {"width":862,"height":710,"title":"(d)","layer":[
  {"data":{"name":"o3"},"mark":{"type":"line","interpolate":"monotone","strokeWidth":2.2},
   "encoding":{"x":{"field":"t","type":"quantitative","scale":{"domain":[17,37],"nice":false,"zero":false},"axis":{"title":"Retention time (min)","values":[17.5,20,22.5,25,27.5,30,32.5,35],"labelExpr":"datum.value % 5 == 0 ? format(datum.value,'d') : ''"}},
   "y":{"field":"v","type":"quantitative","scale":{"domain":[-20000,400000],"nice":false,"zero":false},"axis":{"title":"Intensity (x10⁵ a.u.)","values":[0,50000,100000,150000,200000,250000,300000,350000,400000],"labelExpr":"datum.value % 100000 == 0 ? format(datum.value/100000,'d') : ''"}},
   "color":{"field":"q","type":"nominal","scale":{"domain":["5","10","20","30","50"],"range":["#000000","#ff0000","#00008b","#008080","#ff00ff"]},
    "legend":{"orient":"none","legendX":24,"legendY":133,"labelExpr":"'Qₘᵢₓ= ' + datum.label + ' µL/min'","labelFontSize":56,"symbolSize":6400,"symbolStrokeWidth":2,"padding":13,"rowPadding":13,"labelOffset":14}}}},
  {"data":{"name":"labels"},"transform":[{"filter":"datum.panel == 'Outlet 3' && datum.kind == 'title'"}],"mark":{"type":"text","fontSize":70,"baseline":"middle"},"encoding":{"x":{"field":"t","type":"quantitative"},"y":{"field":"v","type":"quantitative"},"text":{"field":"text"}}},
  {"data":{"name":"labels"},"transform":[{"filter":"datum.panel == 'Outlet 3' && datum.kind == 'peak'"}],"mark":{"type":"text","fontSize":54,"baseline":"middle"},"encoding":{"x":{"field":"t","type":"quantitative"},"y":{"field":"v","type":"quantitative"},"text":{"field":"text"}}},
  {"data":{"name":"boxes"},"transform":[{"filter":"datum.panel == 'Outlet 3'"}],"mark":{"type":"rect","fill":"white","fillOpacity":0,"stroke":"#ff0000","strokeWidth":7,"strokeDash":[7,7]},"encoding":{"x":{"field":"x1","type":"quantitative"},"x2":{"field":"x2"},"y":{"field":"y1","type":"quantitative"},"y2":{"field":"y2"}}}
 ]},
 {"width":865,"height":710,"layer":[
  {"data":{"name":"o3"},"transform":[{"filter":"datum.t >= 32 && datum.t <= 36"}],"mark":{"type":"line","interpolate":"monotone","strokeWidth":8},
   "encoding":{"x":{"field":"t","type":"quantitative","scale":{"domain":[32,36],"nice":false,"zero":false},"axis":{"title":"Retention time (min)","values":[32,32.5,33,33.5,34,34.5,35,35.5,36],"labelExpr":"datum.value % 1 == 0 ? format(datum.value,'d') : ''"}},
   "y":{"field":"v","type":"quantitative","scale":{"domain":[-2000,40000],"nice":false,"zero":false},"axis":{"title":"Intensity (x10⁴ a.u.)","values":[0,5000,10000,15000,20000,25000,30000,35000,40000],"labelExpr":"datum.value % 10000 == 0 ? format(datum.value/10000,'d') : ''"}},
   "color":{"field":"q","type":"nominal","scale":{"domain":["5","10","20","30","50"],"range":["#000000","#ff0000","#0000ff","#008080","#ff00ff"]},
    "legend":{"orient":"top-right","offset":2,"labelExpr":"'Qₘᵢₓ=' + datum.label + ' µL/min'","labelFontSize":45,"symbolSize":6400,"symbolStrokeWidth":9,"padding":8,"rowPadding":0,"labelOffset":10}}}},
  {"data":{"name":"labels"},"transform":[{"filter":"datum.panel == 'Inset 3'"}],"mark":{"type":"text","fontSize":54,"baseline":"middle"},"encoding":{"x":{"field":"t","type":"quantitative"},"y":{"field":"v","type":"quantitative"},"text":{"field":"text"}}},
  {"data":{"name":"boxes"},"transform":[{"filter":"datum.panel == 'Inset 3'"}],"mark":{"type":"rect","fill":"white","fillOpacity":0,"stroke":"#ff0000","strokeWidth":7,"strokeDash":[7,7],"clip":false},"encoding":{"x":{"field":"x1","type":"quantitative"},"x2":{"field":"x2"},"y":{"field":"y1","type":"quantitative"},"y2":{"field":"y2"}}},
  {"data":{"name":"links"},"transform":[{"filter":"datum.panel == 'Inset 3'"}],"mark":{"type":"rule","color":"#ff0000","strokeWidth":7,"strokeDash":[7,7],"clip":false},"encoding":{"x":{"field":"x1","type":"quantitative"},"x2":{"field":"x2"},"y":{"field":"y1","type":"quantitative"},"y2":{"field":"y2"}}}
 ]}
]
}
